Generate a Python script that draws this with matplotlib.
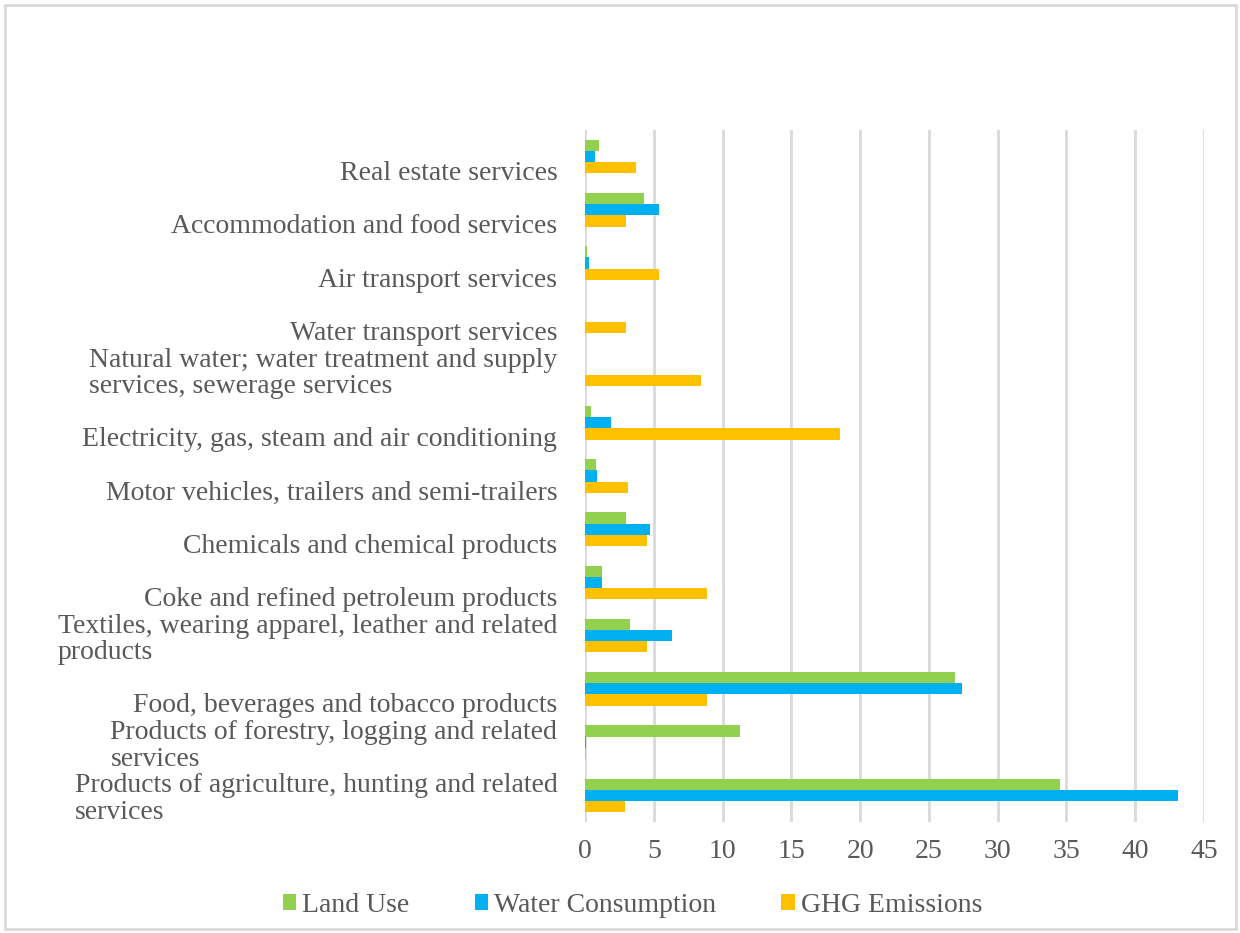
import matplotlib
matplotlib.use("Agg")
import matplotlib.pyplot as plt
import numpy as np
from matplotlib.patches import Rectangle

# categories listed bottom -> top
categories = [
    "Products of agriculture, hunting and related\nservices",
    "Products of forestry, logging and related\nservices",
    "Food, beverages and tobacco products",
    "Textiles, wearing apparel, leather and related\nproducts",
    "Coke and refined petroleum products",
    "Chemicals and chemical products",
    "Motor vehicles, trailers and semi-trailers",
    "Electricity, gas, steam and air conditioning",
    "Natural water; water treatment and supply\nservices, sewerage services",
    "Water transport services",
    "Air transport services",
    "Accommodation and food services",
    "Real estate services",
]
land_use = [34.5, 11.25, 26.9, 3.3, 1.25, 3.0, 0.8, 0.4, 0.0, 0.0, 0.15, 4.3, 1.0]
water_use = [43.1, 0.1, 27.4, 6.3, 1.25, 4.7, 0.9, 1.9, 0.0, 0.0, 0.3, 5.4, 0.7]
ghg = [2.9, 0.1, 8.9, 4.5, 8.9, 4.5, 3.1, 18.5, 8.45, 3.0, 5.4, 3.0, 3.7]
series_names = ["Land Use", "Water Consumption", "GHG Emissions"]
x_ticks = list(range(0, 50, 5))

GREEN, BLUE, ORANGE = "#92D050", "#00B0F0", "#FFC000"
TEXT = "#595959"
GRID = "#D9D9D9"
FS = 20

plt.rcParams.update({
    "font.family": ["Liberation Serif", "DejaVu Serif"],
    "font.size": FS,
    "text.color": TEXT,
})

fig = plt.figure(figsize=(12.4, 9.33), dpi=100)
ax = fig.add_axes([0.4718, 0.119, 0.971 - 0.4718, 0.8607 - 0.119])

y = np.arange(len(categories))
h = 0.21
ax.barh(y + h, land_use, height=h, color=GREEN, label=series_names[0], zorder=3)
ax.barh(y, water_use, height=h, color=BLUE, label=series_names[1], zorder=3)
ax.barh(y - h, ghg, height=h, color=ORANGE, label=series_names[2], zorder=3)

ax.set_xlim(0, 45)
ax.set_ylim(-0.5, len(categories) - 0.5)
ax.set_xticks(x_ticks)
ax.set_xticklabels([str(t) for t in x_ticks], color=TEXT, fontsize=FS)
ax.set_yticks(y)
# single-line labels sit half a line below the group centre, like Excel
labels = [c if "\n" in c else "\n" + c for c in categories]
ax.set_yticklabels(labels, color=TEXT, fontsize=FS, multialignment="left",
                   linespacing=1.08)
ax.tick_params(axis="both", length=0)
ax.tick_params(axis="y", pad=20)
ax.tick_params(axis="x", pad=12)

ax.grid(axis="x", color=GRID, lw=2, zorder=0)
for s in ax.spines.values():
    s.set_visible(False)

ax.legend(loc="center", bbox_to_anchor=(0.51, 1 - 905 / 933), bbox_transform=fig.transFigure,
          ncol=3, frameon=False, fontsize=FS, handlelength=0.5, handleheight=0.5,
          handletextpad=0.2, columnspacing=2.35, labelcolor=TEXT)

# light chart-area border
fig.patches.append(Rectangle((5 / 1240, 4 / 933), 1231 / 1240, 924 / 933,
                             transform=fig.transFigure, fill=False,
                             edgecolor=GRID, lw=2))

fig.savefig("out.png", dpi=100, facecolor="white")
